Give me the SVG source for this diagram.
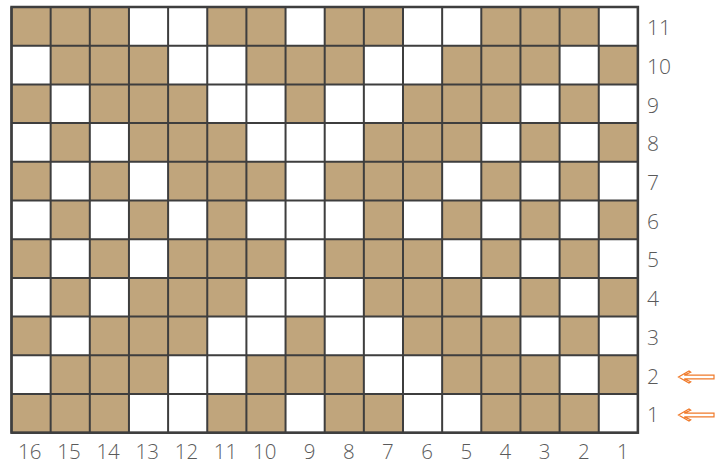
<svg xmlns="http://www.w3.org/2000/svg" xmlns:xlink="http://www.w3.org/1999/xlink" width="725" height="464" viewBox="0 0 725 464">
<style>
.lbl{font-family:"Open Sans","Liberation Sans",sans-serif;font-weight:300;font-size:21px;fill:#5a5a5a}
.bot{font-size:20.5px}
.grid{fill:none;stroke:#3e3e3e;stroke-width:2}
.arr{fill:#fff;stroke:#F07A2A;stroke-width:1.2;stroke-linejoin:miter}
</style>
<defs>
<rect id="c" width="39.15" height="38.7" fill="#C0A57C"/>
<path id="arrow" class="arr" d="M0,0 L10.5,-6 L12.2,-4.8 L5.8,-1.9 L35.5,-1.9 L35.5,1.9 L5.8,1.9 L12.2,4.8 L10.5,6 Z"/>
</defs>
<rect width="725" height="464" fill="#fff"/>
<g id="cells">
<g id="row11"><use href="#c" x="11.5" y="7"/><use href="#c" x="50.65" y="7"/><use href="#c" x="89.8" y="7"/><use href="#c" x="207.25" y="7"/><use href="#c" x="246.4" y="7"/><use href="#c" x="324.7" y="7"/><use href="#c" x="363.85" y="7"/><use href="#c" x="481.3" y="7"/><use href="#c" x="520.45" y="7"/><use href="#c" x="559.6" y="7"/></g>
<g id="row10"><use href="#c" x="50.65" y="45.7"/><use href="#c" x="89.8" y="45.7"/><use href="#c" x="128.95" y="45.7"/><use href="#c" x="246.4" y="45.7"/><use href="#c" x="285.55" y="45.7"/><use href="#c" x="324.7" y="45.7"/><use href="#c" x="442.15" y="45.7"/><use href="#c" x="481.3" y="45.7"/><use href="#c" x="520.45" y="45.7"/><use href="#c" x="598.75" y="45.7"/></g>
<g id="row9"><use href="#c" x="11.5" y="84.4"/><use href="#c" x="89.8" y="84.4"/><use href="#c" x="128.95" y="84.4"/><use href="#c" x="168.1" y="84.4"/><use href="#c" x="285.55" y="84.4"/><use href="#c" x="403" y="84.4"/><use href="#c" x="442.15" y="84.4"/><use href="#c" x="481.3" y="84.4"/><use href="#c" x="559.6" y="84.4"/></g>
<g id="row8"><use href="#c" x="50.65" y="123.1"/><use href="#c" x="128.95" y="123.1"/><use href="#c" x="168.1" y="123.1"/><use href="#c" x="207.25" y="123.1"/><use href="#c" x="363.85" y="123.1"/><use href="#c" x="403" y="123.1"/><use href="#c" x="442.15" y="123.1"/><use href="#c" x="520.45" y="123.1"/><use href="#c" x="598.75" y="123.1"/></g>
<g id="row7"><use href="#c" x="11.5" y="161.8"/><use href="#c" x="89.8" y="161.8"/><use href="#c" x="168.1" y="161.8"/><use href="#c" x="207.25" y="161.8"/><use href="#c" x="246.4" y="161.8"/><use href="#c" x="324.7" y="161.8"/><use href="#c" x="363.85" y="161.8"/><use href="#c" x="403" y="161.8"/><use href="#c" x="481.3" y="161.8"/><use href="#c" x="559.6" y="161.8"/></g>
<g id="row6"><use href="#c" x="50.65" y="200.5"/><use href="#c" x="128.95" y="200.5"/><use href="#c" x="207.25" y="200.5"/><use href="#c" x="363.85" y="200.5"/><use href="#c" x="442.15" y="200.5"/><use href="#c" x="520.45" y="200.5"/><use href="#c" x="598.75" y="200.5"/></g>
<g id="row5"><use href="#c" x="11.5" y="239.2"/><use href="#c" x="89.8" y="239.2"/><use href="#c" x="168.1" y="239.2"/><use href="#c" x="207.25" y="239.2"/><use href="#c" x="246.4" y="239.2"/><use href="#c" x="324.7" y="239.2"/><use href="#c" x="363.85" y="239.2"/><use href="#c" x="403" y="239.2"/><use href="#c" x="481.3" y="239.2"/><use href="#c" x="559.6" y="239.2"/></g>
<g id="row4"><use href="#c" x="50.65" y="277.9"/><use href="#c" x="128.95" y="277.9"/><use href="#c" x="168.1" y="277.9"/><use href="#c" x="207.25" y="277.9"/><use href="#c" x="363.85" y="277.9"/><use href="#c" x="403" y="277.9"/><use href="#c" x="442.15" y="277.9"/><use href="#c" x="520.45" y="277.9"/><use href="#c" x="598.75" y="277.9"/></g>
<g id="row3"><use href="#c" x="11.5" y="316.6"/><use href="#c" x="89.8" y="316.6"/><use href="#c" x="128.95" y="316.6"/><use href="#c" x="168.1" y="316.6"/><use href="#c" x="285.55" y="316.6"/><use href="#c" x="403" y="316.6"/><use href="#c" x="442.15" y="316.6"/><use href="#c" x="481.3" y="316.6"/><use href="#c" x="559.6" y="316.6"/></g>
<g id="row2"><use href="#c" x="50.65" y="355.3"/><use href="#c" x="89.8" y="355.3"/><use href="#c" x="128.95" y="355.3"/><use href="#c" x="246.4" y="355.3"/><use href="#c" x="285.55" y="355.3"/><use href="#c" x="324.7" y="355.3"/><use href="#c" x="442.15" y="355.3"/><use href="#c" x="481.3" y="355.3"/><use href="#c" x="520.45" y="355.3"/><use href="#c" x="598.75" y="355.3"/></g>
<g id="row1"><use href="#c" x="11.5" y="394"/><use href="#c" x="50.65" y="394"/><use href="#c" x="89.8" y="394"/><use href="#c" x="207.25" y="394"/><use href="#c" x="246.4" y="394"/><use href="#c" x="324.7" y="394"/><use href="#c" x="363.85" y="394"/><use href="#c" x="481.3" y="394"/><use href="#c" x="520.45" y="394"/><use href="#c" x="559.6" y="394"/></g>
</g>
<g id="gridlines">
<path class="grid" d="M11.5,7V432.7M50.65,7V432.7M89.8,7V432.7M128.95,7V432.7M168.1,7V432.7M207.25,7V432.7M246.4,7V432.7M285.55,7V432.7M324.7,7V432.7M363.85,7V432.7M403,7V432.7M442.15,7V432.7M481.3,7V432.7M520.45,7V432.7M559.6,7V432.7M598.75,7V432.7M637.9,7V432.7
M11.5,7H637.9M11.5,45.7H637.9M11.5,84.4H637.9M11.5,123.1H637.9M11.5,161.8H637.9M11.5,200.5H637.9M11.5,239.2H637.9M11.5,277.9H637.9M11.5,316.6H637.9M11.5,355.3H637.9M11.5,394H637.9M11.5,432.7H637.9"/>
<rect x="11.5" y="7" width="626.4" height="425.7" fill="none" stroke="#3e3e3e" stroke-width="2.5"/>
</g>
<g id="row-labels" class="lbl">
<text x="647" y="35">11</text>
<text x="647" y="74">10</text>
<text x="647" y="112.5">9</text>
<text x="647" y="151">8</text>
<text x="647" y="190">7</text>
<text x="647" y="228.5">6</text>
<text x="647" y="267">5</text>
<text x="647" y="306">4</text>
<text x="647" y="344.5">3</text>
<text x="647" y="383.5">2</text>
<text x="647" y="422">1</text>
</g>
<g id="col-labels" class="lbl bot" text-anchor="end">
<text x="41.5" y="458.5">16</text>
<text x="80.6" y="458.5">15</text>
<text x="119.8" y="458.5">14</text>
<text x="158.9" y="458.5">13</text>
<text x="198.1" y="458.5">12</text>
<text x="237.2" y="458.5">11</text>
<text x="276.4" y="458.5">10</text>
<text x="315.5" y="458.5">9</text>
<text x="354.7" y="458.5">8</text>
<text x="393.8" y="458.5">7</text>
<text x="433" y="458.5">6</text>
<text x="472.1" y="458.5">5</text>
<text x="511.3" y="458.5">4</text>
<text x="550.4" y="458.5">3</text>
<text x="589.6" y="458.5">2</text>
<text x="628.7" y="458.5">1</text>
</g>
<g id="arrows">
<use href="#arrow" transform="translate(678.5,377)"/>
<use href="#arrow" transform="translate(678.5,415)"/>
</g>
</svg>
